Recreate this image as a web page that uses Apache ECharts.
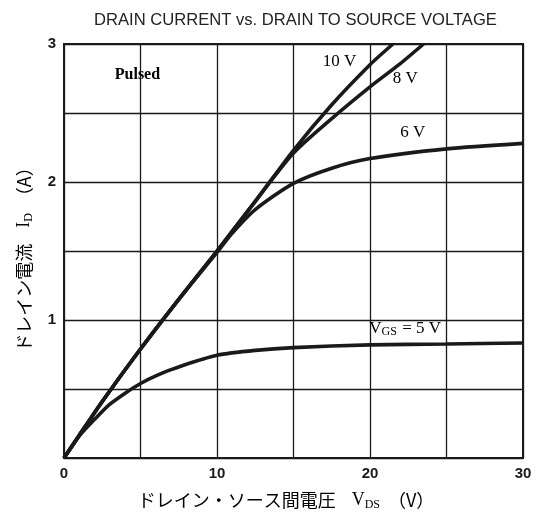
<!DOCTYPE html>
<html><head><meta charset="utf-8">
<script src="https://cdn.jsdelivr.net/npm/echarts@6/dist/echarts.min.js"></script>
<style>html,body{margin:0;padding:0;background:#fff}#c{width:539px;height:519px}</style>
</head><body><div id="c"></div>
<script>
// ---- data ----
const titleText = 'DRAIN CURRENT vs. DRAIN TO SOURCE VOLTAGE';
const xLabelValues = [0, 10, 20, 30];
const yLabelValues = [1, 2, 3];

const vds10 = [0, 1, 2.5, 5, 7.5, 10, 12.5, 15, 17.5, 20, 21.5];
const id10  = [0, 0.165, 0.41, 0.79, 1.15, 1.50, 1.86, 2.23, 2.56, 2.85, 3.0];

const vds8 = [0, 1, 2.5, 5, 7.5, 10, 12.5, 15, 17.5, 20, 22, 23.5];
const id8  = [0, 0.165, 0.41, 0.79, 1.15, 1.50, 1.86, 2.21, 2.46, 2.69, 2.86, 3.0];

const vds6 = [0, 1, 2.5, 5, 7.5, 10, 11, 12.5, 15, 17.5, 20, 25, 30];
const id6  = [0, 0.165, 0.41, 0.79, 1.15, 1.49, 1.63, 1.80, 1.99, 2.10, 2.17, 2.24, 2.28];

const vds5 = [0, 1, 2, 3, 4, 5, 6, 7, 8, 10, 12.5, 15, 20, 25, 30];
const id5  = [0, 0.16, 0.28, 0.39, 0.47, 0.54, 0.595, 0.64, 0.68, 0.745, 0.78, 0.80, 0.82, 0.826, 0.833];

// annotation texts and anchor points (data coords)
const annotations = [
  {text: '{b|Pulsed}', at: [4.8, 2.78]},
  {text: '{n|10 V}', at: [18.0, 2.87]},
  {text: '{n|8 V}', at: [22.3, 2.75]},
  {text: '{n|6 V}', at: [22.8, 2.36]},
  {text: '{n|V}{s|GS}{n| = 5 V}', at: [22.3, 0.94]}
];

// ---- chart ----
const zip = (xs, ys) => xs.map((x, i) => [x, ys[i]]);
const chart = echarts.init(document.getElementById('c'), null, {renderer: 'canvas'});
const lineStyle = {color: '#1a1a1a', width: 3.6};
const mkSeries = (name, xs, ys) => ({
  name, type: 'line', data: zip(xs, ys), smooth: 0.25,
  symbol: 'none', lineStyle, clip: true, z: 5
});
const serif = '"Liberation Serif","DejaVu Serif",serif';
const jp = '"Noto Sans CJK JP",sans-serif';

chart.setOption({
  animation: false,
  backgroundColor: '#fff',
  title: {
    text: titleText, left: 89, top: 7,
    textStyle: {fontFamily: '"Liberation Sans",Arial,sans-serif', fontSize: 16.6, fontWeight: 'normal', color: '#222'}
  },
  grid: {left: 64, right: 16, top: 44, bottom: 61, show: true, borderColor: '#1a1a1a', borderWidth: 2},
  xAxis: {
    type: 'value', min: 0, max: 30, interval: 5,
    axisLine: {show: true, lineStyle: {color: '#1a1a1a', width: 2}},
    axisTick: {show: false},
    splitLine: {show: true, lineStyle: {color: '#1a1a1a', width: 1.3}},
    axisLabel: {
      margin: 8, color: '#1a1a1a', fontSize: 15, fontWeight: 'bold',
      fontFamily: '"Liberation Sans",Arial,sans-serif',
      formatter: v => xLabelValues.includes(v) ? String(v) : ''
    }
  },
  yAxis: {
    type: 'value', min: 0, max: 3, interval: 0.5,
    axisLine: {show: true, lineStyle: {color: '#1a1a1a', width: 2}},
    axisTick: {show: false},
    splitLine: {show: true, lineStyle: {color: '#1a1a1a', width: 1.3}},
    axisLabel: {
      margin: 8, color: '#1a1a1a', fontSize: 15, fontWeight: 'bold',
      fontFamily: '"Liberation Sans",Arial,sans-serif',
      formatter: v => yLabelValues.includes(v) ? String(v) : ''
    }
  },
  series: [
    mkSeries('10 V', vds10, id10),
    mkSeries('8 V', vds8, id8),
    mkSeries('6 V', vds6, id6),
    mkSeries('5 V', vds5, id5)
  ]
});

const rich = {
  b: {fontFamily: serif, fontSize: 16, fontWeight: 'bold', color: '#1a1a1a'},
  n: {fontFamily: serif, fontSize: 17, color: '#1a1a1a', lineHeight: 18},
  s: {fontFamily: serif, fontSize: 12, color: '#1a1a1a', lineHeight: 18, padding: [7, 1, 0, 0]},
  j: {fontFamily: jp, fontSize: 18, color: '#2a2a2a', lineHeight: 22},
  jn: {fontFamily: serif, fontSize: 18, color: '#2a2a2a', lineHeight: 22, padding: [0, 0, 0, 16]},
  js: {fontFamily: serif, fontSize: 12, color: '#2a2a2a', lineHeight: 22, padding: [9, 8, 0, 0]}
};

const graphics = annotations.map(a => {
  const p = chart.convertToPixel({gridIndex: 0}, a.at);
  return {type: 'text', x: p[0], y: p[1], z: 10,
    style: {text: a.text, rich, align: 'center', verticalAlign: 'middle'}};
});
graphics.push({
  type: 'text', x: 286, y: 500, z: 10,
  style: {text: '{j|ドレイン・ソース間電圧}{jn|V}{js|DS}{j|（V）}', rich, align: 'center', verticalAlign: 'middle'}
});
graphics.push({
  type: 'text', x: 24, y: 255, rotation: Math.PI / 2, z: 10,
  style: {text: '{j|ドレイン電流}{jn|I}{js|D}{j|（A）}', rich, align: 'center', verticalAlign: 'middle'}
});
chart.setOption({graphic: graphics});
</script>
</body></html>
